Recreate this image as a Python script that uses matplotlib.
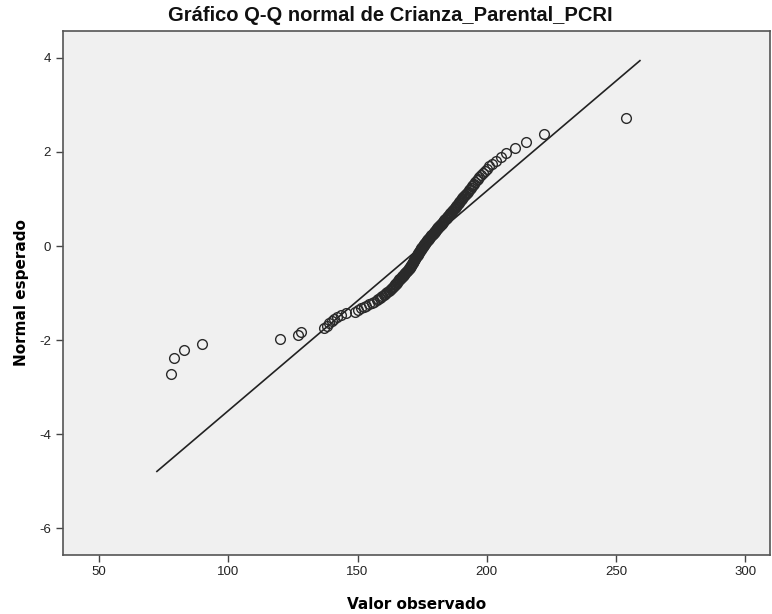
import matplotlib
matplotlib.use('Agg')
import matplotlib.pyplot as plt
from statistics import NormalDist

plt.rcParams['axes.unicode_minus'] = False

Observed = [78.0, 79.0, 83.0, 90.0, 120.0, 127.0, 128.0,
            137.0, 138.0, 139.0, 140.0, 141.0, 142.0, 143.5, 145.5,
            149.0, 150.2, 151.3, 152.4, 153.4, 154.5, 155.5, 156.4, 157.4,
            158.0, 158.5, 159.1, 159.6, 160.1, 160.6, 161.0, 161.5, 162.0, 162.4,
            162.8, 163.3, 163.7, 164.0, 164.3, 164.6, 164.9, 165.2, 165.4, 165.7,
            166.0, 166.2, 166.5, 166.8, 167.0, 167.3, 167.5, 167.8, 168.0, 168.3,
            168.5, 168.8, 169.0, 169.2, 169.4, 169.7, 169.9, 170.1, 170.4, 170.5,
            170.7, 170.8, 171.0, 171.1, 171.3, 171.4, 171.6, 171.7, 171.9, 172.0,
            172.2, 172.3, 172.4, 172.6, 172.7, 172.9, 173.0, 173.2, 173.3, 173.5,
            173.6, 173.8, 173.9, 174.1, 174.2, 174.4, 174.6, 174.7, 174.9, 175.0,
            175.2, 175.3, 175.5, 175.7, 175.8, 176.0, 176.2, 176.3, 176.5, 176.7,
            176.9, 177.1, 177.3, 177.5, 177.7, 177.9, 178.1, 178.3, 178.5, 178.7,
            179.0, 179.2, 179.4, 179.6, 179.8, 180.0, 180.3, 180.5, 180.7, 180.9,
            181.1, 181.3, 181.6, 181.8, 182.0, 182.2, 182.5, 182.7, 182.9, 183.2,
            183.4, 183.6, 183.9, 184.1, 184.4, 184.6, 184.9, 185.1, 185.4, 185.7,
            185.9, 186.2, 186.5, 186.7, 187.0, 187.2, 187.5, 187.7, 188.0, 188.2,
            188.5, 188.8, 189.1, 189.3, 189.6, 189.9, 190.2, 190.5, 190.9, 191.2,
            191.6, 191.9, 192.3, 192.6, 193.0, 193.3, 193.7, 194.2, 194.6, 195.0,
            195.5, 196.0, 196.6, 197.1, 197.8, 198.5, 199.2, 200.0, 201.0, 202.0,
            203.5, 205.5, 207.5, 211.0, 215.0, 222.0, 254.0]

# reference line end points (observed value, expected normal)
Line_X = [72.4, 259.2]
Line_Y = [-4.79, 3.94]

# expected normal from the ranks (Blom), as in the SPSS Q-Q plot
N = len(Observed)
nd = NormalDist()
Expected = [nd.inv_cdf((r - 0.375) / (N + 0.25)) for r in range(1, N + 1)]

fig = plt.figure(figsize=(7.72, 6.14), dpi=100)
ax = fig.add_axes([0.0812, 0.0966, 0.9162, 0.8529])
ax.set_facecolor('#f0f0f0')

ax.plot(Line_X, Line_Y, '-', color='#222222', lw=1.2)
ax.plot(Observed, Expected, 'o', ms=7, mfc='none', mec='#2a2a2a', mew=1.0)

ax.set_xlim(35.96, 309.5)
ax.set_ylim(-6.56, 4.57)
ax.set_xticks([50, 100, 150, 200, 250, 300])
ax.set_yticks([-6, -4, -2, 0, 2, 4])

for s in ax.spines.values():
    s.set_color('#555555')
    s.set_linewidth(1.2)

ax.tick_params(direction='out', length=5, width=1, color='#444444',
               labelsize=9.5, labelcolor='#222222')
for lab in ax.get_xticklabels() + ax.get_yticklabels():
    lab.set_family('Liberation Sans')

# SPSS centres the title on the whole chart, not on the plot area
fig.text(0.505, 0.975, 'Gráfico Q-Q normal de Crianza_Parental_PCRI',
         ha='center', va='center', fontsize=14.5, fontweight='bold',
         family='Liberation Sans', color='#111111')
ax.set_xlabel('Valor observado', fontsize=11, fontweight='bold', labelpad=13)
ax.set_ylabel('Normal esperado', fontsize=11, fontweight='bold', labelpad=7)

fig.savefig('out.png', dpi=100)
